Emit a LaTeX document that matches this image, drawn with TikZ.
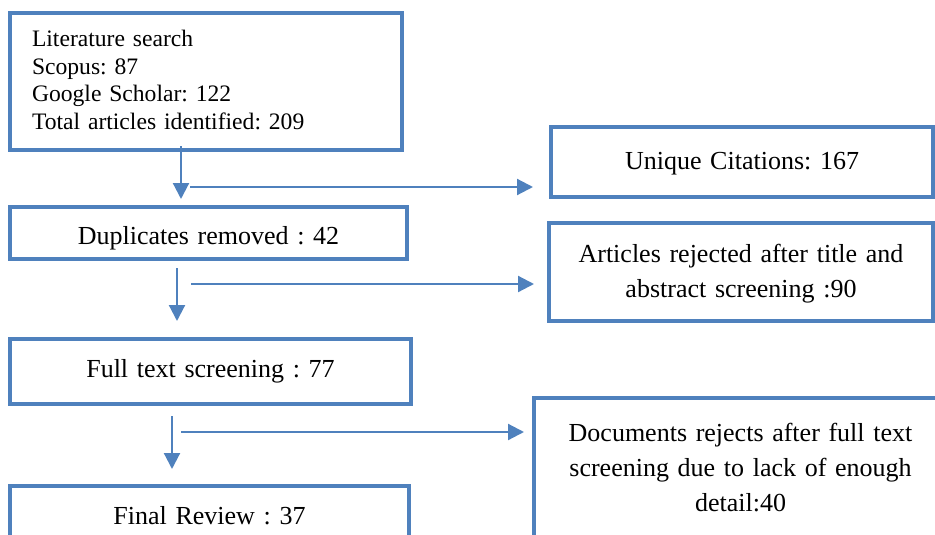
\documentclass[tikz,border=0pt]{standalone}
\usepackage{fontspec}
\setmainfont{Liberation Serif}
\usetikzlibrary{arrows.meta}
\definecolor{wordblue}{RGB}{79,129,189}
\frenchspacing
\begin{document}
\begin{tikzpicture}[x=1pt,y=-1pt,
  box/.style={draw=wordblue, line width=4pt, rectangle, inner sep=0pt, align=center,
    font=\fontsize{26}{35}\selectfont\frenchspacing},
  arr/.style={draw=wordblue, line width=2.2pt, -{Triangle[length=16pt,width=16pt]}},
]
\useasboundingbox (0,0) rectangle (935,535);
\clip (0,0) rectangle (935,535);

\node[box, minimum width=392pt, minimum height=137pt, text width=348pt, align=left,
  font=\fontsize{23.6}{27.5}\selectfont\frenchspacing, text height=10pt, text depth=79pt]
  (lit) at (206,81.5) {Literature search\\Scopus: 87\\Google Scholar: 122\\Total articles identified: 209};
\node[box, minimum width=382pt, minimum height=70pt, text width=370pt, text height=19pt, text depth=5pt]
  (uniq) at (742,162) {Unique Citations: 167};
\node[box, minimum width=397pt, minimum height=52pt, text width=380pt, text height=22pt, text depth=0pt]
  (dup) at (208.5,233) {Duplicates removed : 42};
\node[box, minimum width=384pt, minimum height=98pt, text width=370pt, text height=10pt, text depth=30pt]
  (art) at (741,272) {Articles rejected after title and\\abstract screening :90};
\node[box, minimum width=401pt, minimum height=65pt, text width=390pt, text height=18pt, text depth=6pt]
  (full) at (210.5,371.5) {Full text screening : 77};
\node[box, minimum width=399pt, minimum height=64pt, text width=390pt, text height=18pt, text depth=6pt]
  (final) at (209.5,518) {Final Review : 37};
\node[box, minimum width=413pt, minimum height=160pt, text width=400pt, text height=10pt, text depth=84pt]
  (docs) at (740.5,478) {Documents rejects after full text\\screening due to lack of enough\\detail:40};

\coordinate (v1) at (181,199);
\coordinate (v2) at (177,321);
\coordinate (v3) at (172,469);
\coordinate (h1) at (190,187);
\coordinate (h2) at (191,284);
\coordinate (h3) at (181,432);

\draw[arr, shorten <=-6pt] (lit.south -| v1) -- (v1);
\draw[arr, shorten <=7pt] (dup.south -| v2) -- (v2);
\draw[arr, shorten <=10pt] (full.south -| v3) -- (v3);
\draw[arr, shorten >=16pt] (h1) -- (h1 -| uniq.west);
\draw[arr, shorten >=13pt] (h2) -- (h2 -| art.west);
\draw[arr, shorten >=8pt] (h3) -- (h3 -| docs.west);
\end{tikzpicture}
\end{document}
